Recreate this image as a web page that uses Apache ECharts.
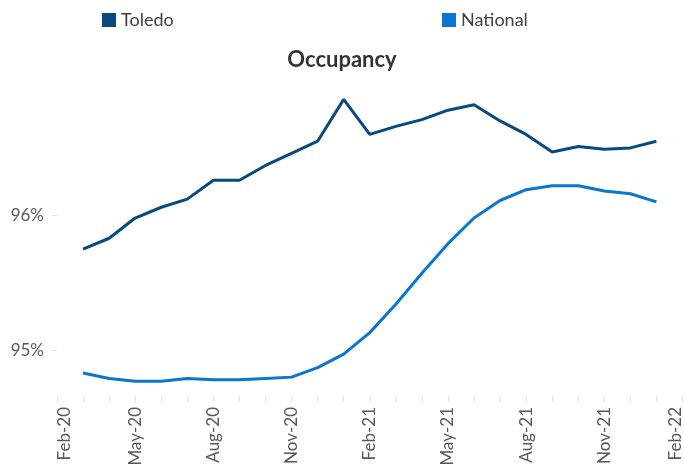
<!DOCTYPE html>
<html>
<head>
<meta charset="utf-8">
<script src="https://cdn.jsdelivr.net/npm/echarts@6/dist/echarts.min.js"></script>
<style>
  html, body { margin: 0; padding: 0; background: #fff; }
  #chart { width: 684px; height: 469px; }
</style>
</head>
<body>
<div id="chart"></div>
<script>
// months on the axis, Feb-20 .. Feb-22
const months = ['Feb-20', 'Mar-20', 'Apr-20', 'May-20', 'Jun-20', 'Jul-20', 'Aug-20', 'Sep-20',
  'Oct-20', 'Nov-20', 'Dec-20', 'Jan-21', 'Feb-21', 'Mar-21', 'Apr-21', 'May-21', 'Jun-21',
  'Jul-21', 'Aug-21', 'Sep-21', 'Oct-21', 'Nov-21', 'Dec-21', 'Jan-22', 'Feb-22'];

// occupancy %, Mar-20 .. Jan-22
const toledo = [95.75, 95.83, 95.98, 96.06, 96.12, 96.26, 96.26, 96.37, 96.46, 96.55, 96.86,
  96.60, 96.66, 96.71, 96.78, 96.82, 96.70, 96.60, 96.47, 96.51, 96.49, 96.50, 96.55];
const national = [94.83, 94.79, 94.77, 94.77, 94.79, 94.78, 94.78, 94.79, 94.80, 94.87, 94.97,
  95.13, 95.34, 95.57, 95.79, 95.98, 96.11, 96.19, 96.22, 96.22, 96.18, 96.16, 96.10];

const yTicks = [95, 96];

const pad = arr => [null].concat(arr, [null]);

const chart = echarts.init(document.getElementById('chart'));
const font = 'Lato, "Noto Sans", sans-serif';

chart.setOption({
  animation: false,
  textStyle: { fontFamily: font },
  title: {
    text: 'Occupancy',
    left: 'center',
    top: 44,
    textStyle: { fontFamily: font, fontSize: 22, fontWeight: 'bold', color: '#333' }
  },
  legend: [
    {
      data: ['Toledo'], left: 97, top: 6, icon: 'rect', itemWidth: 14, itemHeight: 14,
      textStyle: { fontFamily: font, fontSize: 18, color: '#404040' }
    },
    {
      data: ['National'], left: 437, top: 6, icon: 'rect', itemWidth: 14, itemHeight: 14,
      textStyle: { fontFamily: font, fontSize: 18, color: '#404040' }
    }
  ],
  grid: { left: 57, top: 80.5, bottom: 73, width: 631 },
  xAxis: {
    type: 'category',
    data: months,
    boundaryGap: false,
    axisLine: { show: false },
    axisTick: { show: true, interval: 0, length: 6, lineStyle: { color: '#e3e3e3' } },
    axisLabel: {
      interval: 2,
      rotate: 90,
      margin: 11,
      fontSize: 17,
      color: '#595959',
      formatter: (v, i) => i === 0 ? '{first|' + v + '}' : (i === months.length - 1 ? '{last|' + v + '}' : v),
      rich: {
        first: { fontSize: 17, color: '#595959', padding: [16, 0, 0, 0] },
        last: { fontSize: 17, color: '#595959', padding: [0, 0, 14, 0] }
      }
    },
    splitLine: { show: false }
  },
  yAxis: {
    type: 'value',
    min: 94.66,
    max: 97.0,
    axisLine: { show: false },
    splitLine: { show: false },
    axisTick: { show: true, customValues: yTicks, length: 5, lineStyle: { color: '#e3e3e3' } },
    axisLabel: {
      customValues: yTicks,
      margin: 13,
      fontSize: 17,
      color: '#595959',
      formatter: v => Math.round(v) + '%'
    }
  },
  series: [
    {
      name: 'Toledo', type: 'line', data: pad(toledo), symbol: 'none',
      lineStyle: { width: 3, color: '#08497f' }, itemStyle: { color: '#08497f' }
    },
    {
      name: 'National', type: 'line', data: pad(national), symbol: 'none',
      lineStyle: { width: 3, color: '#0a76cf' }, itemStyle: { color: '#0a76cf' }
    }
  ]
});
</script>
</body>
</html>
